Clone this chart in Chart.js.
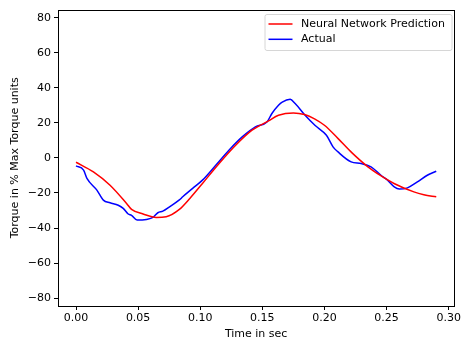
<!DOCTYPE html>
<html>
<head>
<meta charset="utf-8">
<script src="https://cdn.jsdelivr.net/npm/chart.js@4"></script>
<style>
  html, body { margin: 0; padding: 0; background: #fff; }
  #wrap { width: 463px; height: 341px; position: relative; }
</style>
</head>
<body>
<div id="wrap"><canvas id="c" width="463" height="341"></canvas></div>
<script>
const seriesLabels = ["Neural Network Prediction", "Actual"];
const xTitle = "Time in sec";
const yTitle = "Torque in % Max Torque units";

const predTime = [0.000, 0.014, 0.0274, 0.0407, 0.0447, 0.054, 0.0646, 0.0726, 0.0832, 0.0918, 0.1018, 0.1152, 0.1285, 0.1417, 0.155, 0.163, 0.175, 0.184, 0.192, 0.200, 0.211, 0.222, 0.235, 0.245, 0.256, 0.272, 0.280, 0.290];
const predValues = [-2.5, -8.0, -15.6, -26.0, -29.4, -32.0, -34.0, -33.6, -29.4, -23.0, -14.6, -3.2, 7.2, 15.8, 21.1, 24.3, 25.6, 24.7, 22.3, 18.6, 11.0, 3.0, -5.1, -10.0, -14.6, -19.4, -21.0, -22.2];

const actualTime = [0.000, 0.0061, 0.0088, 0.0168, 0.0220, 0.0274, 0.0340, 0.0380, 0.0420, 0.0447, 0.0492, 0.0567, 0.0619, 0.0659, 0.0699, 0.0753, 0.0832, 0.0859, 0.0939, 0.1018, 0.1125, 0.1231, 0.1338, 0.1444, 0.1537, 0.1577, 0.1630, 0.1660, 0.1724, 0.1764, 0.1844, 0.1923, 0.2016, 0.2069, 0.2109, 0.2215, 0.2295, 0.2375, 0.2455, 0.2508, 0.2562, 0.2602, 0.2668, 0.2748, 0.2828, 0.2900];
const actualValues = [-4.6, -7.0, -11.7, -18.4, -24.1, -25.6, -27.0, -28.8, -32.0, -32.8, -35.5, -35.1, -34.0, -31.3, -30.4, -27.9, -24.0, -22.2, -17.4, -12.7, -4.2, 4.4, 12.0, 17.7, 20.5, 25.3, 30.0, 31.8, 33.4, 31.0, 24.3, 18.6, 12.9, 6.3, 3.4, -2.3, -3.2, -5.1, -9.9, -12.7, -16.5, -17.8, -17.1, -13.7, -9.9, -7.6];

const xTicks = [0.00, 0.05, 0.10, 0.15, 0.20, 0.25, 0.30];
const yTicks = [-80, -60, -40, -20, 0, 20, 40, 60, 80];

const seriesColors = ["#ff0000", "#0000ff"];
const FONT = "'DejaVu Sans', sans-serif";
const FS = 11;

function pts(xs, ys) { return xs.map((x, i) => ({ x: x, y: ys[i] })); }
function fmtMinus(s) { return s.replace('-', '\u2212'); }

const framePlugin = {
  id: 'frame',
  afterDraw(chart) {
    const ctx = chart.ctx, a = chart.chartArea;
    ctx.save();
    ctx.strokeStyle = '#000';
    ctx.lineWidth = 1;
    ctx.strokeRect(Math.round(a.left) + 0.5, Math.round(a.top) + 0.5, Math.round(a.right - a.left), Math.round(a.bottom - a.top));
    // axis titles
    ctx.fillStyle = '#000';
    ctx.font = FS + 'px ' + FONT;
    ctx.textAlign = 'center';
    ctx.textBaseline = 'middle';
    ctx.fillText(xTitle, (a.left + a.right) / 2, 334);
    ctx.save();
    ctx.translate(15, (a.top + a.bottom) / 2);
    ctx.rotate(-Math.PI / 2);
    ctx.fillText(yTitle, 0, 0);
    ctx.restore();
    // legend
    const bx = 265, by = 14.5, bw = 187, bh = 36;
    ctx.fillStyle = 'rgba(255,255,255,0.8)';
    ctx.strokeStyle = '#d6d6d6';
    ctx.lineWidth = 1;
    const r = 2;
    ctx.beginPath();
    ctx.moveTo(bx + r, by);
    ctx.lineTo(bx + bw - r, by); ctx.arcTo(bx + bw, by, bx + bw, by + r, r);
    ctx.lineTo(bx + bw, by + bh - r); ctx.arcTo(bx + bw, by + bh, bx + bw - r, by + bh, r);
    ctx.lineTo(bx + r, by + bh); ctx.arcTo(bx, by + bh, bx, by + bh - r, r);
    ctx.lineTo(bx, by + r); ctx.arcTo(bx, by, bx + r, by, r);
    ctx.closePath();
    ctx.fill(); ctx.stroke();
    chart.data.datasets.forEach((ds, i) => {
      const y = 24 + i * 15.3;
      ctx.strokeStyle = ds.borderColor;
      ctx.lineWidth = 1.5;
      ctx.beginPath(); ctx.moveTo(268.5, y); ctx.lineTo(292.5, y); ctx.stroke();
      ctx.fillStyle = '#000';
      ctx.textAlign = 'left';
      ctx.textBaseline = 'middle';
      ctx.fillText(ds.label, 301, y);
    });
    ctx.restore();
  }
};

new Chart(document.getElementById('c'), {
  type: 'line',
  data: {
    datasets: [
      { label: seriesLabels[0], data: pts(predTime, predValues), borderColor: seriesColors[0], backgroundColor: seriesColors[0], borderWidth: 1.5, pointRadius: 0, cubicInterpolationMode: 'monotone', fill: false },
      { label: seriesLabels[1], data: pts(actualTime, actualValues), borderColor: seriesColors[1], backgroundColor: seriesColors[1], borderWidth: 1.5, pointRadius: 0, cubicInterpolationMode: 'monotone', fill: false }
    ]
  },
  options: {
    responsive: false,
    animation: false,
    devicePixelRatio: 1,
    layout: { padding: { left: 0, right: 6, top: 9, bottom: 0 } },
    plugins: { legend: { display: false }, tooltip: { enabled: false } },
    scales: {
      x: {
        type: 'linear',
        min: -0.0145, max: 0.3045,
        afterBuildTicks(s) { s.ticks = xTicks.map(v => ({ value: v })); },
        afterFit(s) { s.height = 35; },
        grid: { drawOnChartArea: false, drawTicks: true, tickLength: 4, tickColor: '#000', tickWidth: 1 },
        border: { display: false },
        ticks: { color: '#000', font: { family: FONT, size: FS }, padding: 2, maxRotation: 0, autoSkip: false,
          callback: v => v.toFixed(2) }
      },
      y: {
        type: 'linear',
        min: -84.5, max: 84.6,
        afterBuildTicks(s) { s.ticks = yTicks.map(v => ({ value: v })); },
        afterFit(s) { s.width = 58; },
        grid: { drawOnChartArea: false, drawTicks: true, tickLength: 4, tickColor: '#000', tickWidth: 1 },
        border: { display: false },
        ticks: { color: '#000', font: { family: FONT, size: FS }, padding: 3, autoSkip: false,
          callback: v => fmtMinus(String(v)) }
      }
    }
  },
  plugins: [framePlugin]
});
</script>
</body>
</html>
